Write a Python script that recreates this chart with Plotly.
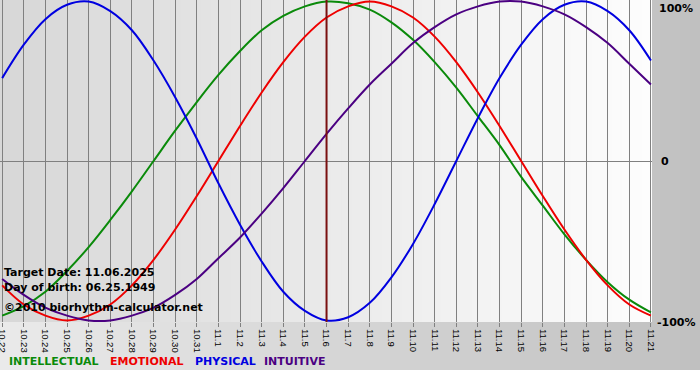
import plotly.graph_objects as go

# ---------------- data ----------------
days = ["10.22", "10.23", "10.24", "10.25", "10.26", "10.27", "10.28", "10.29", "10.30", "10.31",
        "11.1", "11.2", "11.3", "11.4", "11.5", "11.6", "11.7", "11.8", "11.9", "11.10",
        "11.11", "11.12", "11.13", "11.14", "11.15", "11.16", "11.17", "11.18", "11.19", "11.20", "11.21"]

physical = [0.52, 0.73, 0.89, 0.98, 1.00, 0.94, 0.82, 0.63, 0.40, 0.14,
            -0.14, -0.40, -0.63, -0.82, -0.94, -1.00, -0.98, -0.89, -0.73, -0.52,
            -0.27, 0.00, 0.27, 0.52, 0.73, 0.89, 0.98, 1.00, 0.94, 0.82, 0.63]

emotional = [-0.78, -0.90, -0.97, -1.00, -0.97, -0.90, -0.78, -0.62, -0.43, -0.22,
             0.00, 0.22, 0.43, 0.62, 0.78, 0.90, 0.97, 1.00, 0.97, 0.90,
             0.78, 0.62, 0.43, 0.22, 0.00, -0.22, -0.43, -0.62, -0.78, -0.90, -0.97]

intellectual = [-0.97, -0.91, -0.82, -0.69, -0.54, -0.37, -0.19, 0.00, 0.19, 0.37,
                0.54, 0.69, 0.82, 0.91, 0.97, 1.00, 0.99, 0.95, 0.87, 0.76,
                0.62, 0.46, 0.28, 0.10, -0.10, -0.28, -0.46, -0.62, -0.76, -0.87, -0.95]

intuitive = [-0.74, -0.84, -0.92, -0.97, -1.00, -1.00, -0.97, -0.92, -0.84, -0.74,
             -0.61, -0.48, -0.33, -0.17, 0.00, 0.17, 0.33, 0.48, 0.61, 0.74,
             0.84, 0.92, 0.97, 1.00, 1.00, 0.97, 0.92, 0.84, 0.74, 0.61, 0.48]

target_day = "11.6"
y_ticks = [1, 0, -1]
y_labels = ["100%", "0", "-100%"]

series = [
    ("INTELLECTUAL", intellectual, "#0a8a0a"),
    ("EMOTIONAL", emotional, "#ee0000"),
    ("PHYSICAL", physical, "#0000e0"),
    ("INTUITIVE", intuitive, "#4b0082"),
]

# ---------------- layout geometry ----------------
W, H = 700, 380
ML, MR, MT, MB = 0, 48, 0, 58
PW, PH = W - ML - MR, H - MT - MB

def px_x(px):
    return (px - ML) / PW

def px_y(py):
    return (H - MB - py) / PH

def grey(v):
    v = int(round(v))
    return f"rgb({v},{v},{v})"

shapes = []
# outer gradient (light left -> darker right), down to y=370
n = 70
for i in range(n):
    x0 = i * W / n
    x1 = (i + 1) * W / n
    c = 234 + (192 - 234) * (i + 0.5) / n
    shapes.append(dict(type="rect", xref="paper", yref="paper",
                       x0=px_x(x0), x1=px_x(x1) + 0.001, y0=px_y(370), y1=px_y(0),
                       line=dict(width=0), fillcolor=grey(c), layer="below"))
# plot area gradient (darker left -> almost white right)
n2 = 65
for i in range(n2):
    x0 = i / n2
    x1 = (i + 1) / n2
    c = 215 + (253 - 215) * (i + 0.5) / n2
    shapes.append(dict(type="rect", xref="paper", yref="paper",
                       x0=x0, x1=min(x1 + 0.001, 1), y0=0, y1=1,
                       line=dict(width=0), fillcolor=grey(c), layer="below"))
# target date line (category index)
ti = days.index(target_day)
shapes.append(dict(type="line", xref="x", yref="paper", x0=ti, x1=ti,
                   y0=0, y1=1, line=dict(color="#7a1010", width=2), layer="above"))

fig = go.Figure()
for name, vals, col in series:
    fig.add_trace(go.Scatter(x=days, y=vals, mode="lines", name=name,
                             line=dict(color=col, width=2, shape="spline", smoothing=1),
                             hoverinfo="skip"))

bold = dict(family="DejaVu Sans", size=11, color="black", weight="bold")
annotations = []
# right-side labels
label_pos = {1: (657, 8), 0: (659, 162), -1: (655, 322)}
for v, t in zip(y_ticks, y_labels):
    lx, ly = label_pos[v]
    annotations.append(dict(text=t, xref="paper", yref="paper", x=px_x(lx), y=px_y(ly),
                            xanchor="left", yanchor="middle", showarrow=False, font=bold))

# info text
for txt, py in [("Target Date: 11.06.2025", 272),
                ("Day of birth: 06.25.1949", 287),
                ("©2010 biorhythm-calculator.net", 307)]:
    annotations.append(dict(text=txt, xref="paper", yref="paper", x=px_x(2), y=px_y(py),
                            xanchor="left", yanchor="middle", showarrow=False, font=bold))

# legend labels
for (name, vals, col), xs in zip(series, [7, 108, 193, 262]):
    annotations.append(dict(text=name, xref="paper", yref="paper", x=px_x(xs), y=px_y(361),
                            xanchor="left", yanchor="middle", showarrow=False,
                            font=dict(family="DejaVu Sans", size=11, color=col, weight="bold")))

fig.update_layout(
    width=W, height=H,
    margin=dict(l=ML, r=MR, t=MT, b=MB, pad=0, autoexpand=False),
    paper_bgcolor="white",
    plot_bgcolor="rgba(0,0,0,0)",
    showlegend=False,
    shapes=shapes,
    annotations=annotations,
    xaxis=dict(type="category", range=[-0.1, 30.05], showgrid=True, gridcolor="#808080",
               gridwidth=1, ticks="outside", ticklen=4, tickcolor="#808080", tickwidth=1,
               tickangle=90, tickfont=dict(family="Liberation Sans", size=9.5, color="black"),
               showline=False, zeroline=False, fixedrange=True, automargin=False),
    yaxis=dict(range=[-1.01, 1.01], showgrid=False, zeroline=True, zerolinecolor="#808080",
               zerolinewidth=1, showticklabels=False, ticks="", showline=False, fixedrange=True,
               automargin=False),
)

fig.write_html("out.html", config={"displayModeBar": False},
               post_script="document.body.style.margin='0';document.body.style.padding='0';")
